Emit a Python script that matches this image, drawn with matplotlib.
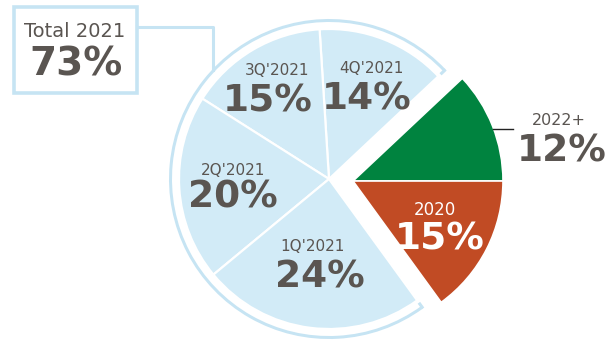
import numpy as np
import matplotlib
matplotlib.use("Agg")
import matplotlib.pyplot as plt

# slice shares in percent, counter-clockwise from 3 o'clock
labels = ["2022+", "4Q'2021", "3Q'2021", "2Q'2021", "1Q'2021", "2020"]
shares = [12, 14, 15, 20, 24, 15]
total_label = "Total 2021"
total_2021 = sum(shares[1:5])

BLUE = "#d2ebf7"
RING = "#c6e4f3"
GREEN = "#00833f"
RED = "#c14b24"
GREY = "#5a5551"

W, H = 612, 342
fig = plt.figure(figsize=(W / 100, H / 100), dpi=100)
ax = fig.add_axes([0, 0, 1, 1])

c_main = (329, 179)
c_out = (353, 181)
R = 150

# y axis is inverted below, so clockwise in data reads counter-clockwise on screen
main_colors = ["none", BLUE, BLUE, BLUE, BLUE, "none"]
wedges, _ = ax.pie(shares, colors=main_colors, startangle=0, counterclock=False,
                   center=c_main, radius=R,
                   wedgeprops=dict(edgecolor="white", linewidth=1.6))
for w in (wedges[0], wedges[-1]):
    w.set_visible(False)

out_colors = [GREEN, "none", "none", "none", "none", RED]
wedges2, _ = ax.pie(shares, colors=out_colors, startangle=0, counterclock=False,
                    center=c_out, radius=R,
                    wedgeprops=dict(edgecolor="white", linewidth=1.2))
for w in wedges2[1:5]:
    w.set_visible(False)

# outer bracket ring around the 2021 quarters
ring_vals = [shares[0], total_2021, shares[-1]]
ring, _ = ax.pie(ring_vals, colors=["none", RING, "none"], startangle=0,
                 counterclock=False, center=c_main, radius=160,
                 wedgeprops=dict(width=3, edgecolor="none"))
ring[0].set_visible(False)
ring[2].set_visible(False)

# small inward ticks at the ring ends
a1 = np.deg2rad(360 * shares[0] / 100)
a2 = np.deg2rad(360 * (shares[0] + total_2021) / 100)
for a in (a1, a2):
    r = np.array([153, 160])
    ax.plot(c_main[0] + r * np.cos(a), c_main[1] - r * np.sin(a),
            color=RING, lw=2.2, solid_capstyle="butt")

# "Total 2021" box and connector
ax.add_patch(plt.Rectangle((14, 7), 123, 86, fill=False, ec=RING, lw=2.6))
ring_y = c_main[1] - np.sqrt(160 ** 2 - (c_main[0] - 213) ** 2)
ax.plot([137, 213, 213], [27, 27, ring_y + 1], color=RING, lw=2.2)

small = dict(family="DejaVu Sans", color=GREY, ha="center", va="baseline")
big = dict(family="DejaVu Sans", weight="bold", color=GREY, ha="center",
           va="baseline")

ax.text(75, 37, total_label, fontsize=14, **small)
ax.text(76, 76, f"{total_2021}%", fontsize=28, **big)

# quarter labels: label x, baseline, percent x, baseline
spots = {
    "4Q'2021": (371, 73, 367, 110),
    "3Q'2021": (277, 75, 268, 112),
    "2Q'2021": (233, 175, 233, 208),
    "1Q'2021": (313, 251, 320, 288),
}
for lab, val in zip(labels, shares):
    if lab in spots:
        x1, y1, x2, y2 = spots[lab]
        ax.text(x1, y1, lab, fontsize=11, **small)
        ax.text(x2, y2, f"{val}%", fontsize=27, **big)

ax.text(435, 215, labels[-1], fontsize=12, **{**small, "color": "white"})
ax.text(440, 249, f"{shares[-1]}%", fontsize=27, **{**big, "color": "white"})

ax.plot([493, 513], [129, 129], color="#222222", lw=1)
ax.text(559, 125, labels[0], fontsize=11.5, **small)
ax.text(562, 161, f"{shares[0]}%", fontsize=27, **big)

ax.set_xlim(0, W)
ax.set_ylim(H, 0)
ax.set_aspect("equal")
ax.axis("off")
fig.savefig("out.png", dpi=100, facecolor="white")
